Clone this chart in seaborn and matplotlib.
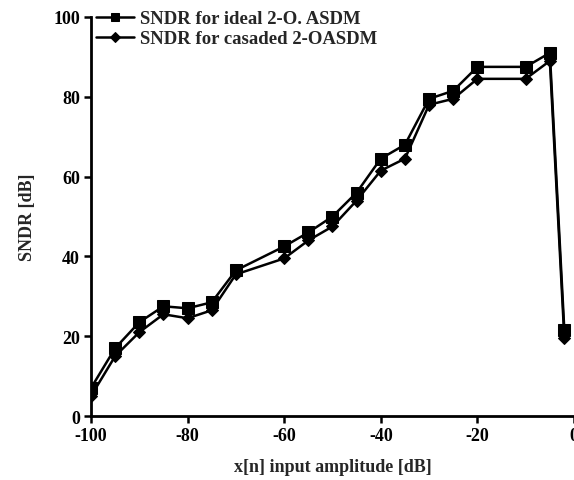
import matplotlib
matplotlib.use("Agg")
import matplotlib.pyplot as plt
import seaborn as sns
import pandas as pd

x_ideal = [-100, -95, -90, -85, -80, -75, -70, -60, -55, -50, -45, -40, -35, -30, -25, -20, -10, -5, -2]
sndr_ideal = [7, 17, 23.5, 27.5, 27, 28.5, 36.5, 42.5, 46, 50, 56, 64.5, 68, 79.5, 81.5, 87.5, 87.5, 91, 21.5]
x_casc = [-100, -95, -90, -85, -80, -75, -70, -60, -55, -50, -45, -40, -35, -30, -25, -20, -10, -5, -2]
sndr_casc = [5, 15, 21, 25.5, 24.5, 26.5, 35.5, 39.5, 44, 47.5, 54, 61.5, 64.5, 78, 79.5, 84.5, 84.5, 89, 19.5]
label_ideal = "SNDR for ideal 2-O. ASDM"
label_casc = "SNDR for casaded 2-OASDM"
xticks = [-100, -80, -60, -40, -20, 0]
yticks = [0, 20, 40, 60, 80, 100]

sns.set_style("ticks")
plt.rcParams['font.family'] = ['Liberation Serif', 'DejaVu Serif']

df1 = pd.DataFrame({"x": x_ideal, "y": sndr_ideal})
df2 = pd.DataFrame({"x": x_casc, "y": sndr_casc})

fig = plt.figure(figsize=(5.74, 4.81), dpi=100)
ax = fig.add_axes([0.1585, 0.133, 0.8415, 0.8296])

sns.lineplot(data=df1, x="x", y="y", ax=ax, color="black", marker="s", markersize=8,
             linewidth=1.8, markeredgecolor="black", label=label_ideal, sort=False)
sns.lineplot(data=df2, x="x", y="y", ax=ax, color="black", marker="D", markersize=6.5,
             linewidth=1.8, markeredgecolor="black", label=label_casc, sort=False)

ax.set_xlim(-100, 0)
ax.set_ylim(0, 100)
ax.set_xticks(xticks)
ax.set_yticks(yticks)
ax.set_xticklabels([str(v) for v in xticks], fontsize=13, fontweight="bold")
ax.set_yticklabels([str(v) for v in yticks], fontsize=13, fontweight="bold")
ax.set_xlabel("x[n] input amplitude [dB]", fontsize=13, fontweight="bold", labelpad=10)
ax.set_ylabel("SNDR [dB]", fontsize=13, fontweight="bold", labelpad=12)
ax.tick_params(direction="out", length=5, width=1.8, colors="black", pad=3)
for s in ["top", "right"]:
    ax.spines[s].set_visible(False)
for s in ["left", "bottom"]:
    ax.spines[s].set_linewidth(2)
    ax.spines[s].set_color("black")

leg = ax.legend(loc="upper left", bbox_to_anchor=(-0.012, 1.045), frameon=False,
                prop={"size": 13.5, "weight": "bold"}, handlelength=2.0,
                handletextpad=0.3, labelspacing=0.15, borderaxespad=0.2,
                markerscale=0.8)

fig.savefig("out.png", dpi=100)
